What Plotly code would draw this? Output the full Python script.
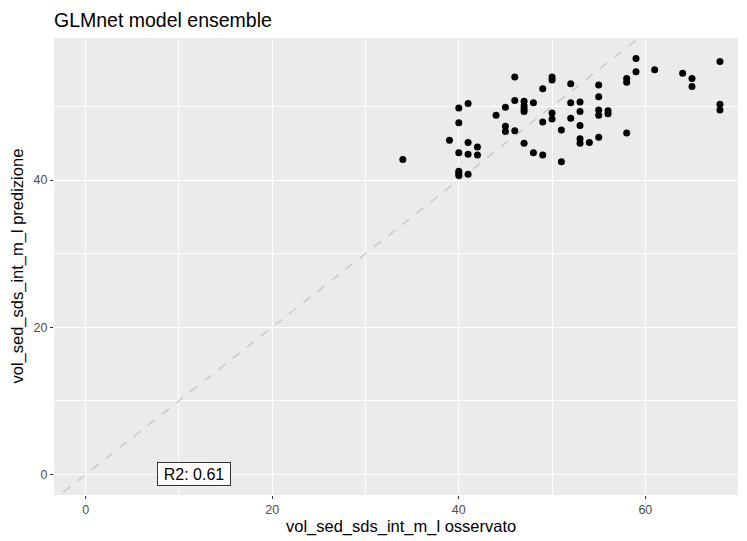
import plotly.graph_objects as go

observed = [34, 40, 41, 40, 39, 41, 42, 40, 41, 42, 40, 40, 40, 41,
            44, 45, 46, 46, 45, 45, 46, 47, 47, 47, 47, 48, 47, 48, 49,
            49, 50, 50, 49, 50, 50, 51, 51, 52, 52, 52, 53, 53, 53, 53, 53,
            54, 55, 55, 55, 55, 55, 56, 56, 58, 58, 58, 59, 59, 61, 64, 65,
            65, 68, 68, 68]
predicted = [42.8, 49.8, 50.4, 47.8, 45.4, 45.1, 44.5, 43.7, 43.5, 43.4, 41.2, 40.9, 40.6, 40.8,
             48.8, 49.9, 54.0, 50.8, 47.3, 46.6, 46.7, 50.7, 50.1, 49.7, 49.3, 50.5, 45.0, 43.7, 43.4,
             52.4, 54.0, 53.6, 47.9, 49.1, 48.3, 46.8, 42.5, 53.1, 50.5, 48.4, 50.6, 49.3, 47.4, 45.6, 45.0,
             45.1, 45.8, 52.9, 51.3, 49.5, 48.8, 49.4, 49.0, 53.8, 53.3, 46.4, 56.5, 54.7, 55.0, 54.5, 53.8,
             52.7, 56.1, 50.3, 49.5]

x_ticks = [0, 20, 40, 60]
y_ticks = [0, 20, 40]
x_minor = [10, 30, 50, 70]
y_minor = [10, 30, 50]
r2_label = "R2: 0.61"
diag = [-10, 80]

FONT = "Liberation Sans"

# page body has an 8px margin: work in figure pixels = screen pixels - 8
W, H = 739, 533
L, T, B, R = 46, 30, 45.5, 0
plot_w = W - L - R
plot_h = H - T - B

fig = go.Figure()
fig.add_trace(go.Scatter(
    x=diag, y=diag, mode="lines",
    line=dict(color="#cacaca", width=1.5, dash="dash"),
    hoverinfo="skip", showlegend=False))
fig.add_trace(go.Scatter(
    x=observed, y=predicted, mode="markers",
    marker=dict(color="black", size=7, line=dict(width=0)),
    showlegend=False))

fig.add_annotation(
    x=11.6, y=0, xref="x", yref="y", text=r2_label, showarrow=False,
    font=dict(family=FONT, size=16, color="black"),
    width=68, height=18,
    bgcolor="white", bordercolor="#333333", borderwidth=1, borderpad=2)

# axis titles (positioned in pixels relative to the plot area)
fig.add_annotation(
    x=0.5, y=-(519 - (H - B)) / plot_h, xref="paper", yref="paper", yanchor="middle",
    text="vol_sed_sds_int_m_l osservato", showarrow=False,
    font=dict(family=FONT, size=16.5, color="black"))
fig.add_annotation(
    x=(9 - L) / plot_w, y=0.5, xref="paper", yref="paper", xanchor="center",
    text="vol_sed_sds_int_m_l predizione", showarrow=False, textangle=-90,
    font=dict(family=FONT, size=16.5, color="black"))

axis_common = dict(
    showgrid=True, gridcolor="white", gridwidth=1.4,
    zeroline=False, showline=False, automargin=False,
    ticks="outside", ticklen=3, tickcolor="#333333", tickwidth=1,
    tickfont=dict(family=FONT, size=12.5, color="#4d4d4d"),
)

fig.update_layout(
    width=W, height=H,
    margin=dict(l=L, r=R, t=T, b=B, pad=0),
    paper_bgcolor="white", plot_bgcolor="#ebebeb",
    title=dict(text="GLMnet model ensemble", x=0, xref="paper", xanchor="left",
               y=1 - 12 / H, yref="container", yanchor="middle",
               font=dict(family=FONT, size=19.5, color="black")),
    xaxis=dict(range=[-3.4, 70.9], tickvals=x_ticks, ticklabelstandoff=0,
               minor=dict(showgrid=True, gridcolor="white", gridwidth=0.7, ticks="",
                          tickvals=x_minor),
               **axis_common),
    yaxis=dict(range=[-2.8, 59.3], tickvals=y_ticks,
               minor=dict(showgrid=True, gridcolor="white", gridwidth=0.7, ticks="",
                          tickvals=y_minor),
               **axis_common),
)

fig.write_html("out.html")
